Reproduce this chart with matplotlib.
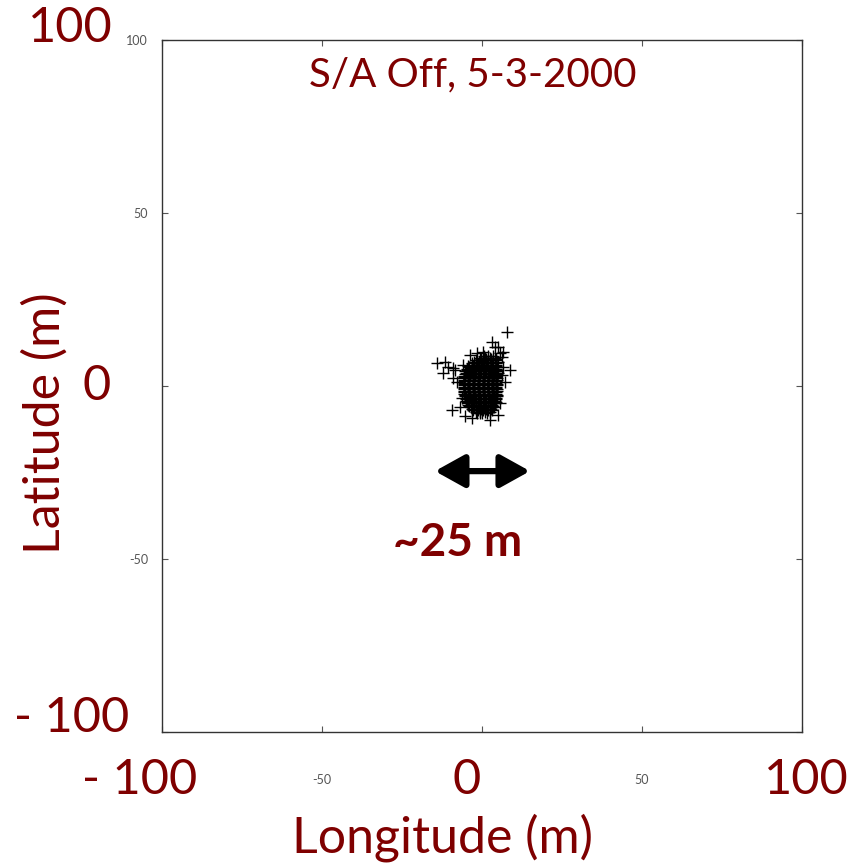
import matplotlib; matplotlib.use("Agg")
import matplotlib.pyplot as plt

# GPS fixes (m), S/A off -- dense core read row by row, then the scattered outliers
core_rows = [
    (8.6, [0.5, 2.0, 3.5]),
    (8.2, [-0.5, 1.0, 2.5, 4.0]),
    (7.8, [-0.25, 1.25, 2.75, 4.25]),
    (7.4, [-1.75, -0.25, 1.25, 2.75, 4.25]),
    (7.0, [-2.5, -1.0, 0.5, 2.0, 3.5, 5.0]),
    (6.6, [-3.0, -1.5, 0.0, 1.5, 3.0, 4.5]),
    (6.2, [-3.25, -1.75, -0.25, 1.25, 2.75, 4.25]),
    (5.8, [-4.25, -2.75, -1.25, 0.25, 1.75, 3.25, 4.5]),
    (5.4, [-4.0, -2.5, -1.0, 0.5, 2.0, 3.5, 4.75]),
    (5.0, [-4.75, -3.25, -1.75, -0.25, 1.25, 2.75, 4.25]),
    (4.6, [-4.75, -3.25, -1.75, -0.25, 1.25, 2.75, 4.25]),
    (4.2, [-5.25, -3.75, -2.25, -0.75, 0.75, 2.25, 3.75, 4.75]),
    (3.8, [-5.0, -3.5, -2.0, -0.5, 1.0, 2.5, 4.0, 5.0]),
    (3.4, [-5.25, -3.75, -2.25, -0.75, 0.75, 2.25, 3.75, 4.75]),
    (3.0, [-5.5, -4.25, -2.75, -1.25, 0.25, 1.75, 3.25, 4.5]),
    (2.6, [-5.5, -4.0, -2.5, -1.0, 0.5, 2.0, 3.5, 4.5]),
    (2.2, [-5.5, -4.0, -2.5, -1.0, 0.5, 2.0, 3.5, 4.75]),
    (1.8, [-5.75, -4.25, -2.75, -1.25, 0.25, 1.75, 3.25, 4.75]),
    (1.4, [-5.75, -4.25, -2.75, -1.25, 0.25, 1.75, 3.25, 4.5]),
    (1.0, [-5.5, -4.0, -2.5, -1.0, 0.5, 2.0, 3.5, 4.5]),
    (0.6, [-5.5, -4.0, -2.5, -1.0, 0.5, 2.0, 3.5, 4.75]),
    (0.2, [-5.75, -4.25, -2.75, -1.25, 0.25, 1.75, 3.25, 4.75]),
    (-0.2, [-5.75, -4.25, -2.75, -1.25, 0.25, 1.75, 3.25, 4.5]),
    (-0.6, [-5.5, -4.0, -2.5, -1.0, 0.5, 2.0, 3.5, 4.5]),
    (-1.0, [-5.5, -4.0, -2.5, -1.0, 0.5, 2.0, 3.5, 4.75]),
    (-1.4, [-5.75, -4.25, -2.75, -1.25, 0.25, 1.75, 3.25, 4.75]),
    (-1.8, [-5.5, -4.25, -2.75, -1.25, 0.25, 1.75, 3.25, 4.5]),
    (-2.2, [-5.5, -4.0, -2.5, -1.0, 0.5, 2.0, 3.5, 4.5]),
    (-2.6, [-5.25, -4.0, -2.5, -1.0, 0.5, 2.0, 3.5, 4.75]),
    (-3.0, [-5.25, -3.75, -2.25, -0.75, 0.75, 2.25, 3.75, 4.75]),
    (-3.4, [-5.0, -3.75, -2.25, -0.75, 0.75, 2.25, 3.75, 4.5]),
    (-3.8, [-5.0, -3.5, -2.0, -0.5, 1.0, 2.5, 4.0, 4.5]),
    (-4.2, [-5.0, -3.5, -2.0, -0.5, 1.0, 2.5, 4.0]),
    (-4.6, [-4.75, -3.25, -1.75, -0.25, 1.25, 2.75, 4.25]),
    (-5.0, [-4.5, -3.25, -1.75, -0.25, 1.25, 2.75, 4.0]),
    (-5.4, [-4.25, -2.75, -1.25, 0.25, 1.75, 3.25]),
    (-5.8, [-4.0, -2.5, -1.0, 0.5, 2.0, 3.5]),
    (-6.2, [-3.5, -2.0, -0.5, 1.0, 2.5, 3.75]),
    (-6.6, [-3.25, -1.75, -0.25, 1.25, 2.75]),
    (-7.0, [-2.75, -1.25, 0.25, 1.75, 3.0]),
    (-7.4, [-2.0, -0.5, 1.0, 2.5]),
    (-7.8, [-1.5, 0.0, 1.5]),
]
out_lon = [7.8, 3.1, 4.1, 5.0, 6.6, 5.6, 6.3, 6.6, 8.8, 6.3, 7.2, 5.6, 5.0, 2.5,
           -3.1, -9.4, -6.9, -6.3, -7.8, -9.1, -9.1, -11.6, -14.1, -12.2, -10.6,
           -8.4, -5.9, -3.8, -1.6, 0.3, -5.3, -0.6]
out_lat = [15.6, 12.7, 11.3, 11.3, 9.8, 9.5, 8.4, 5.5, 4.6, 3.2, 1.2, -4.9, -8.4, -9.8,
           -9.2, -6.9, -6.1, -3.5, 1.2, 2.3, 5.2, 6.9, 6.6, 3.8, 5.5,
           4.6, 6.1, 9.0, 9.5, 9.8, -8.7, -7.8]

lon = [x for y, xs in core_rows for x in xs] + out_lon
lat = [y for y, xs in core_rows for x in xs] + out_lat

yticks = [-100, -50, 0, 50, 100]
ytick_labels = ['', '-50', '', '50', '100']
xticks = [-100, -50, 0, 50, 100]
xtick_labels = ['', '-50', '', '50', '']

RED = '#7f0000'
plt.rcParams.update({'font.family': ['Lato', 'DejaVu Sans']})

fig = plt.figure(figsize=(8.66, 8.67), dpi=100)
ax = fig.add_axes([162/866, 1-732/867, 640/866, 692/867])
ax.plot(lon, lat, '+', color='black', ms=9, mew=1.0, zorder=3)
ax.set_xlim(-100, 100); ax.set_ylim(-100, 100)
ax.set_xticks(xticks); ax.set_xticklabels(xtick_labels)
ax.set_yticks(yticks); ax.set_yticklabels(ytick_labels)
ax.tick_params(direction='in', length=4, width=0.8, labelsize=9, colors='#555555',
               top=True, right=True)
ax.tick_params(axis='x', pad=30)
ax.tick_params(axis='y', pad=10)
for s in ax.spines.values():
    s.set_color('#333333'); s.set_linewidth(1.0)

# spread marker
ax.annotate('', xy=(15.0, -24.6), xytext=(-14.7, -24.6),
            arrowprops=dict(arrowstyle='<|-|>,head_length=0.9,head_width=0.5',
                            lw=4.5, color='black', mutation_scale=20,
                            shrinkA=0, shrinkB=0))
ax.text(-7.5, -45.4, '~25 m', color=RED, fontsize=33, fontweight='bold',
        ha='center', va='center')
ax.text(-3, 90, 'S/A Off, 5-3-2000', color=RED, fontsize=29, ha='center', va='center')

def ftext(px, py, s, **kw):
    fig.text(px/866, 1-py/867, s, color=RED, ha='center', va='center', **kw)

ftext(70, 28, '100', fontsize=35)
ftext(97, 386, '0', fontsize=35)
ftext(72, 718, '- 100', fontsize=35)
ftext(140, 780, '- 100', fontsize=35)
ftext(467, 780, '0', fontsize=35)
ftext(806, 780, '100', fontsize=35)
ftext(443, 838, 'Longitude (m)', fontsize=36)
ftext(45, 423, 'Latitude (m)', fontsize=36, rotation=90)

fig.savefig('out.png', dpi=100)
